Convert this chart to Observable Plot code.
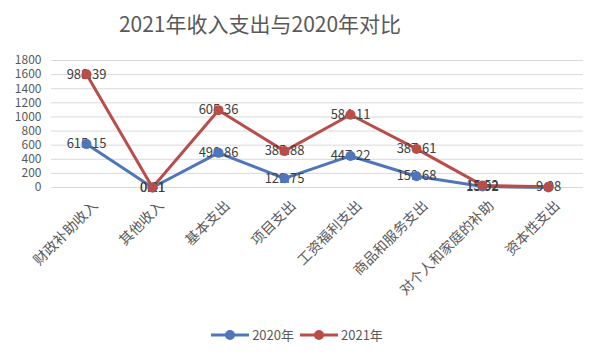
<!DOCTYPE html>
<html><head><meta charset="utf-8">
<script src="https://cdn.jsdelivr.net/npm/d3@7"></script>
<script src="https://cdn.jsdelivr.net/npm/@observablehq/plot@0.6"></script>
<style>
body{margin:0;background:#fff;font-family:"Noto Sans CJK SC","Noto Sans",sans-serif;}
#wrap{position:relative;width:600px;height:357px;overflow:hidden;background:#fff;}
#title{height:47px;line-height:47px;font-size:21px;color:#595959;width:520px;text-align:center;}
#chart svg{display:block;}
#legend{position:absolute;left:0;top:325px;width:594px;display:flex;justify-content:center;align-items:center;gap:6px;font-size:13px;color:#595959;}
#legend span{display:flex;align-items:center;gap:3px;}
</style></head>
<body><div id="wrap"><div id="title">2021年收入支出与2020年对比</div><div id="chart"></div><div id="legend"></div></div>
<script>
const categories = ["财政补助收入","其他收入","基本支出","项目支出","工资福利支出","商品和服务支出","对个人和家庭的补助","资本性支出"];
const seriesNames = ["2020年","2021年"];
const values2020 = [615.15, 0.11, 490.86, 129.75, 447.22, 159.68, 13.92, 0];
const values2021 = [988.39, 0.41, 605.36, 385.88, 584.11, 387.61, 15.52, 9.08];
const yTicks = [0,200,400,600,800,1000,1200,1400,1600,1800];
const colors = ["#4f76b8","#b84d4a"];

const data = [];
[values2020, values2021].forEach((vals, s) => {
  vals.forEach((v, i) => data.push({cat: categories[i], series: seriesNames[s], value: v}));
});

const stackOpts = {x: "cat", y: "value", z: "series", order: null};

const chart = Plot.plot({
  width: 600,
  height: 268,
  marginLeft: 51,
  marginRight: 17,
  marginTop: 13,
  marginBottom: 128,
  style: {fontFamily: '"Noto Sans CJK SC","Noto Sans",sans-serif', fontSize: "13px", color: "#595959", background: "#fff"},
  x: {type: "point", domain: categories, padding: 0.5, label: null},
  y: {domain: [0, 1800], label: null},
  color: {domain: seriesNames, range: colors},
  marks: [
    Plot.gridY(yTicks, {stroke: "#d9d9d9", strokeOpacity: 1, strokeWidth: 1}),
    Plot.axisY({ticks: yTicks, tickFormat: d => String(d), tickSize: 0, tickPadding: 10, fontSize: 12, fill: "#595959"}),
    Plot.axisX({tickSize: 0, tickRotate: -45, tickPadding: 16, dx: 9, fontSize: 14, fill: "#595959", style: {letterSpacing: "1.5px"}}),
    Plot.lineY(data, Plot.stackY2({...stackOpts, stroke: "series", strokeWidth: 3})),
    Plot.text(data, Plot.stackY2({...stackOpts, text: d => String(d.value), fill: "#404040", fontSize: 13})),
    Plot.dot(data, Plot.stackY2({...stackOpts, fill: "series", r: 5, stroke: null}))
  ]
});
document.getElementById("chart").appendChild(chart);

const legend = document.getElementById("legend");
seriesNames.forEach((name, i) => {
  const sp = document.createElement("span");
  sp.innerHTML = `<svg width="38" height="12"><line x1="0" x2="38" y1="6" y2="6" stroke="${colors[i]}" stroke-width="3"/><circle cx="19" cy="6" r="5" fill="${colors[i]}"/></svg>${name}`;
  legend.appendChild(sp);
});
</script>
</body></html>
